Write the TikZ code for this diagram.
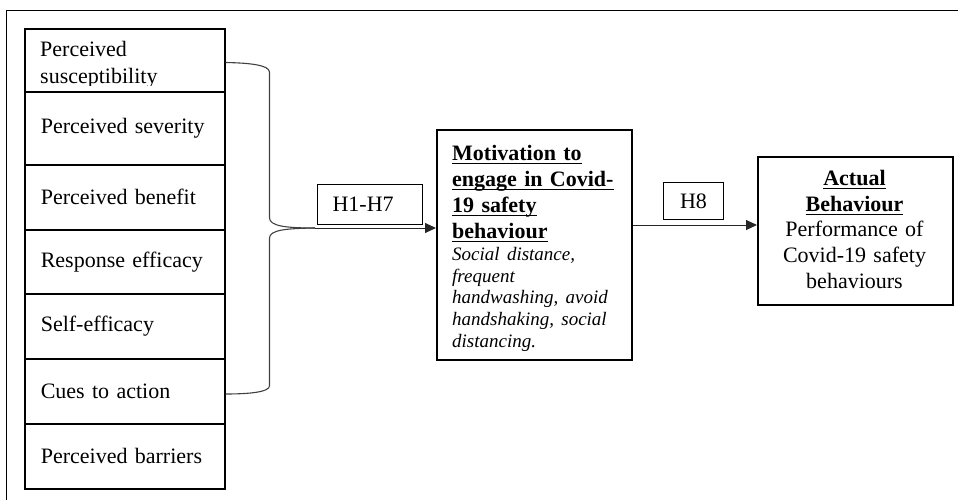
\documentclass[tikz,border=0pt]{standalone}
\usepackage{fontspec}
\setmainfont{Liberation Serif}
\usetikzlibrary{arrows.meta}
\newcommand{\ulx}[1]{\leavevmode\setbox0\hbox{#1}\rlap{\rule[-4pt]{\wd0}{1.5pt}}\box0}
\begin{document}
\begin{tikzpicture}[x=1pt,y=-1pt,
  every node/.style={font=\fontsize{22}{26}\selectfont},
  lbox/.style={draw,line width=1.6pt,minimum width=200pt,text width=168pt,inner xsep=16pt,inner ysep=0pt,align=left,anchor=north west},
  hbox/.style={draw,line width=1.1pt,inner sep=0pt,anchor=north west},
  bigbox/.style={draw,line width=1.8pt,minimum width=195pt,inner sep=0pt,anchor=north west},
  boxtext/.style={inner sep=0pt,text width=163pt},
  brace/.style={draw=black!75,line width=1.1pt},
  arr/.style={draw=black!85,line width=1pt,-{Triangle[length=11pt,width=10pt]}}]
\useasboundingbox (0,0) rectangle (958,500);
% outer frame (top and left only)
\draw[line width=1.5pt] (6.5,500) -- (6.5,10.5) -- (958,10.5);
% left boxes
\node[lbox,minimum height=63pt] (b1) at (24,28) {};
\begin{scope}
  \clip (26,30) rectangle (222,85.5);
  \node[anchor=base west,inner sep=0pt] (t1a) at (40,57) {Perceived};
  \node[anchor=base west,inner sep=0pt] (t1b) at (40,84) {susceptibility};
\end{scope}
\node[lbox,minimum height=73pt] (b2) at (24,91) {Perceived severity};
\node[lbox,minimum height=65pt] (b3) at (24,164) {Perceived benefit};
\node[lbox,minimum height=64pt] (b4) at (24,229) {Response efficacy};
\node[lbox,minimum height=65pt] (b5) at (24,293) {Self-efficacy};
\node[lbox,minimum height=65pt] (b6) at (24,358) {Cues to action};
\node[lbox,minimum height=65pt] (b7) at (24,423) {Perceived barriers};
% brace
\coordinate (tip) at (315,228);
\draw[brace] (b1.east |- 0,62.5) .. controls (250,63) and (269,65) .. (269.5,72) -- (269.5,218) .. controls (270,226) and (285,228) .. (tip);
\draw[brace] (tip) .. controls (285,228.5) and (270,230) .. (269.5,238) -- (269.5,386) .. controls (269,392) and (250,394) .. (b6.east |- 0,394);
% hypothesis labels
\node[hbox,minimum width=105pt,minimum height=40pt,text width=75pt,inner xsep=15pt,align=left] (h17) at (317,184) {H1-H7};
\node[hbox,minimum width=60pt,minimum height=37pt] (h8) at (663,182) {H8};
% motivation box
\node[bigbox,minimum height=230pt] (mot) at (436,129) {};
\node[boxtext,anchor=north west,align=left] (mottext) at (452,145) {%
  {\fontsize{22}{26}\selectfont\bfseries \ulx{Motivation to}\\ \ulx{engage in Covid-}\\ \ulx{19 safety}\\ \ulx{behaviour}\par}%
  {\fontsize{19}{21.8}\selectfont\itshape Social distance,\\ frequent\\ handwashing, avoid\\ handshaking, social\\ distancing.\par}};
% actual behaviour box
\node[bigbox,minimum height=148pt] (act) at (757,156) {};
\node[boxtext,anchor=north,align=center,font=\fontsize{22}{25.7}\selectfont] (acttext) at (854.5,170) {%
  \textbf{\ulx{Actual}}\\ \textbf{\ulx{Behaviour}}\\ Performance of\\ Covid-19 safety\\ behaviours};
% arrows
\draw[arr] (tip) -- (mot.west |- tip);
\draw[arr] (mot.east |- 0,225) -- (act.west |- 0,225);
\end{tikzpicture}
\end{document}
